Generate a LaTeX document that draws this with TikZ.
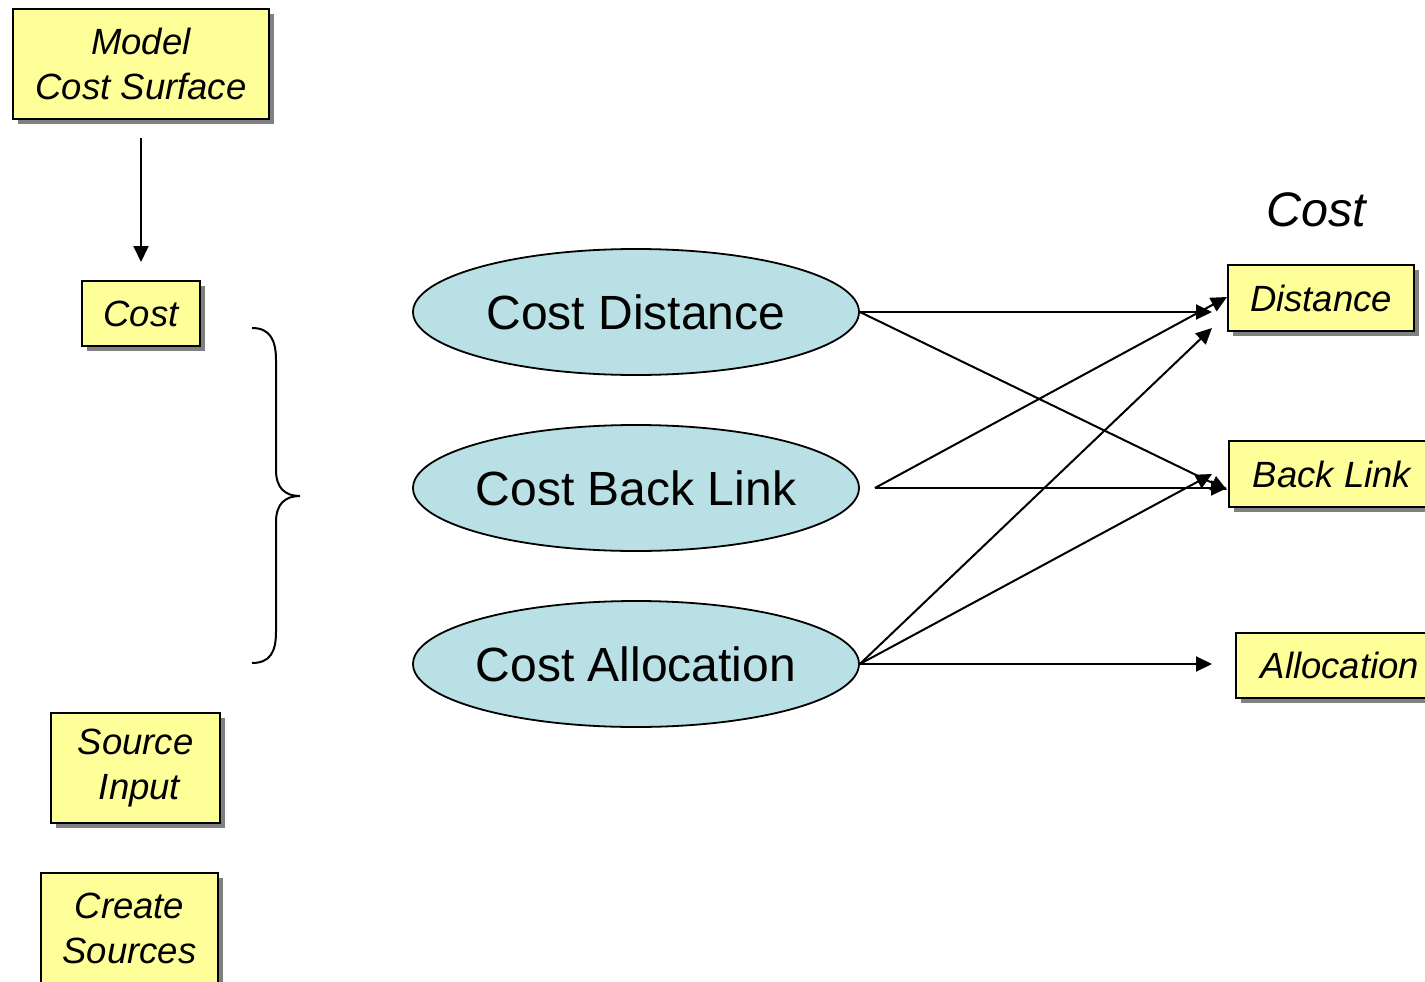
\documentclass[tikz,border=0pt]{standalone}
\usepackage{fontspec}
\setmainfont{Liberation Sans}
\usetikzlibrary{shapes.geometric,arrows.meta,shadows}

\definecolor{boxfill}{RGB}{255,255,153}
\definecolor{ovalfill}{RGB}{185,224,228}
\definecolor{shadegrey}{RGB}{128,128,128}

% text set in a zero-width box, so every oval keeps the same size
\newcommand\ovallabel[1]{\makebox[0pt]{#1}}

\tikzset{
  toolbox/.style={draw=black, line width=2pt, fill=boxfill, align=center,
    inner sep=0pt, anchor=north west,
    font=\itshape\fontsize{36.5}{45}\selectfont,
    drop shadow={shadow xshift=5pt, shadow yshift=-5pt, fill=shadegrey, opacity=1}},
  oval/.style={ellipse, draw=black, line width=1.8pt, fill=ovalfill,
    minimum width=446pt, minimum height=126pt, inner sep=0pt,
    font=\fontsize{48}{55}\selectfont},
  link/.style={line width=2pt, -{Triangle[length=16pt,width=15pt]}},
}

\begin{document}
\begin{tikzpicture}[x=1pt,y=-1pt]
  \useasboundingbox (0,0) rectangle (1425,982);
  \clip (0,0) rectangle (1425,982);

  % input boxes on the left
  \node[toolbox, minimum width=256pt, minimum height=110pt] (mcs) at (12,8) {Model\\Cost Surface};
  \node[toolbox, minimum width=118pt, minimum height=65pt] (cost) at (81,280) {Cost};
  \node[toolbox, minimum width=169pt, minimum height=110pt] (src) at (50,712) {Source\\\hspace*{8pt}Input};
  \node[toolbox, minimum width=177pt, minimum height=110pt] (csrc) at (40,872) {Create\\Sources};

  \draw[link] ([yshift=-18pt]mcs.south) -- ([yshift=18pt]cost.north);

  % brace grouping the cost tools
  \draw[line width=2pt] (252,328) .. controls (270,328) and (276,340) .. (276,360)
    -- (276,470) .. controls (276,488) and (285,496) .. (300,496)
    .. controls (285,496) and (276,504) .. (276,522)
    -- (276,632) .. controls (276,652) and (270,663) .. (252,663);

  % cost tools
  \node[oval] (cd) at (636,312) {\ovallabel{Cost Distance}};
  \node[oval] (cbl) at (636,488) {\ovallabel{Cost Back Link}};
  \node[oval] (ca) at (636,664) {\ovallabel{Cost Allocation}};

  % output boxes on the right
  \node[font=\itshape\fontsize{48.5}{55}\selectfont] (outlbl) at (1316,210) {Cost};
  \node[toolbox, minimum width=186pt, minimum height=66pt] (dist) at (1227,264) {Distance};
  \node[toolbox, minimum width=206pt, minimum height=66pt] (blink) at (1228,440) {Back Link};
  \node[toolbox, minimum width=208pt, minimum height=65pt] (alloc) at (1235,632) {Allocation};

  % arrow end points near the output boxes
  \coordinate (d1) at (1212,312);
  \coordinate (d2) at (1227,297);
  \coordinate (d3) at (1212,328);
  \coordinate (b1) at (1227,490);
  \coordinate (b2) at (1227,488);
  \coordinate (b3) at (1212,474);
  \coordinate (a1) at (1212,664);

  \draw[link] (cd.east) -- (d1);
  \draw[link] (cd.east) -- (b1);
  \draw[link] ([xshift=15pt]cbl.east) -- (d2);
  \draw[link] ([xshift=15pt]cbl.east) -- (b2);
  \draw[link] (ca.east) -- (d3);
  \draw[link] (ca.east) -- (b3);
  \draw[link] (ca.east) -- (a1);
\end{tikzpicture}
\end{document}
